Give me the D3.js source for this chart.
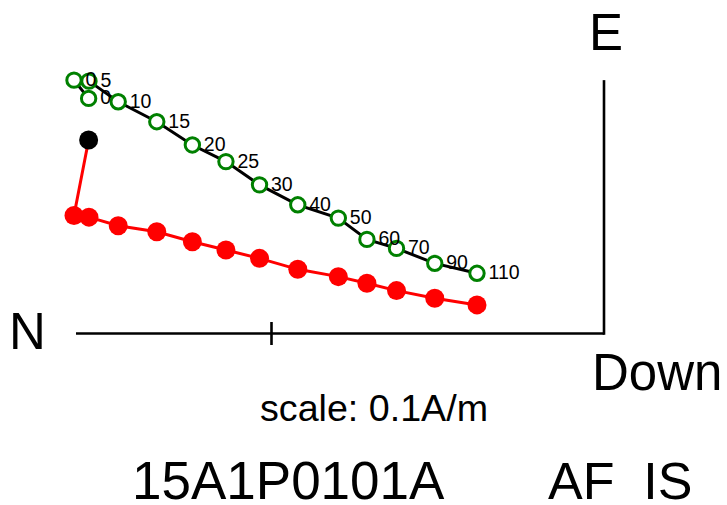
<!DOCTYPE html>
<html>
<head>
<meta charset="utf-8">
<script src="https://cdn.jsdelivr.net/npm/d3@7"></script>
<style>
  html, body { margin: 0; padding: 0; background: #fff; }
  svg { display: block; }
  text { font-family: "Liberation Sans", Arial, Helvetica, sans-serif; fill: #000; }
</style>
</head>
<body>
<svg id="chart" width="727" height="505"></svg>
<script>
// Demagnetization steps (labels)
const steps = ["0", "0", "5", "10", "15", "20", "25", "30", "40", "50", "60", "70", "90", "110"];
// North component (A/m)
const northVals = [0.1550, 0.1594, 0.1549, 0.1461, 0.1345, 0.1238, 0.1137, 0.1036, 0.0921, 0.0799, 0.0713, 0.0624, 0.0509, 0.0382];
// East component (A/m) - horizontal projection (red)
const eastVals = [0.0582, 0.0355, 0.0350, 0.0324, 0.0306, 0.0276, 0.0251, 0.0226, 0.0193, 0.0171, 0.0151, 0.0129, 0.0106, 0.0086];
// Vertical component (A/m) - vertical projection (green)
const vertVals = [0.0707, 0.0762, 0.0759, 0.0697, 0.0637, 0.0567, 0.0517, 0.0447, 0.0387, 0.0347, 0.0283, 0.0256, 0.0211, 0.0181];
// Scale bar
const scaleValue = 0.1;
const scaleLabel = "scale: 0.1A/m";
const specimen = "15A1P0101A";
const method = "AF  IS";

const svg = d3.select("#chart");

const x = d3.scaleLinear().domain([0, scaleValue]).range([604, 271.5]);
const y = d3.scaleLinear().domain([0, scaleValue]).range([333.5, 1]);

const data = steps.map((s, i) => ({ step: s, n: northVals[i], e: eastVals[i], v: vertVals[i] }));

// axes
const nMax = d3.max(northVals);
const vMax = d3.max(vertVals.concat(eastVals));
svg.append("line")
  .attr("x1", x(nMax) + 2).attr("x2", x(0))
  .attr("y1", y(0)).attr("y2", y(0))
  .attr("stroke", "#000").attr("stroke-width", 2.6);
svg.append("line")
  .attr("x1", x(0)).attr("x2", x(0))
  .attr("y1", y(vMax)).attr("y2", y(0) + 1.3)
  .attr("stroke", "#000").attr("stroke-width", 2.6);
// scale tick
svg.append("line")
  .attr("x1", x(scaleValue)).attr("x2", x(scaleValue))
  .attr("y1", y(0) - 11.5).attr("y2", y(0) + 11.5)
  .attr("stroke", "#000").attr("stroke-width", 2.6);

// lines
const lineV = d3.line().x(d => x(d.n)).y(d => y(d.v));
const lineE = d3.line().x(d => x(d.n)).y(d => y(d.e));

svg.append("path").datum(data).attr("d", lineV)
  .attr("fill", "none").attr("stroke", "#000").attr("stroke-width", 3);
svg.append("path").datum(data).attr("d", lineE)
  .attr("fill", "none").attr("stroke", "#ff0000").attr("stroke-width", 3);

// red filled markers
svg.selectAll("circle.h").data(data.slice(1)).enter().append("circle")
  .attr("class", "h")
  .attr("cx", d => x(d.n)).attr("cy", d => y(d.e)).attr("r", 9.5)
  .attr("fill", "#ff0000");
// first point black
svg.append("circle").datum(data[0])
  .attr("cx", d => x(d.n)).attr("cy", d => y(d.e)).attr("r", 9.5)
  .attr("fill", "#000");

// green open markers
svg.selectAll("circle.v").data(data).enter().append("circle")
  .attr("class", "v")
  .attr("cx", d => x(d.n)).attr("cy", d => y(d.v)).attr("r", 7.2)
  .attr("fill", "#fff").attr("stroke", "#008000").attr("stroke-width", 3);

// step labels
svg.selectAll("text.lab").data(data).enter().append("text")
  .attr("class", "lab")
  .attr("x", d => x(d.n) + 11.5).attr("y", d => y(d.v) + 6)
  .attr("font-size", 19.5)
  .text(d => d.step);

// axis labels
svg.append("text").attr("x", 9).attr("y", 348.5).attr("font-size", 51).text("N");
svg.append("text").attr("x", 589).attr("y", 50).attr("font-size", 51).text("E");
svg.append("text").attr("x", 592).attr("y", 390).attr("font-size", 51).text("Down");

// scale text
svg.append("text").attr("x", 260).attr("y", 421)
  .attr("font-size", 36)
  .attr("textLength", 228).attr("lengthAdjust", "spacingAndGlyphs")
  .text(scaleLabel);

// title
svg.append("text").attr("x", 132).attr("y", 499).attr("font-size", 53).text(specimen);
svg.append("text").attr("x", 548).attr("y", 499).attr("font-size", 52)
  .attr("xml:space", "preserve").style("white-space", "pre").text(method);
</script>
</body>
</html>
